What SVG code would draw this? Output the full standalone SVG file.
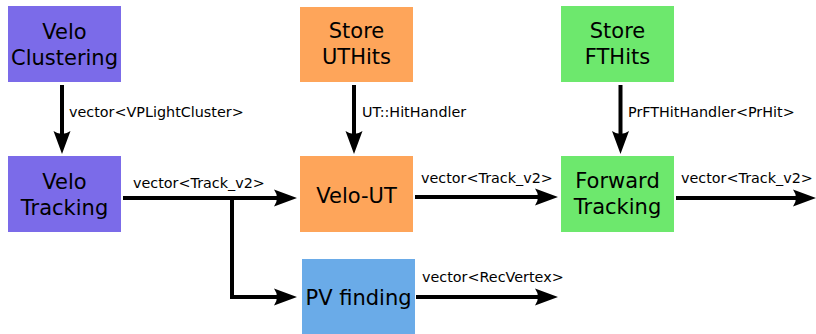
<svg xmlns="http://www.w3.org/2000/svg" width="816" height="334" viewBox="0 0 816 334">
<style>
.node{font-family:"DejaVu Sans",sans-serif;font-size:21px;fill:#000;text-anchor:middle}
.lbl{font-family:"DejaVu Sans",sans-serif;font-size:14.35px;fill:#000}
.c{fill:none;stroke:#000;stroke-width:4}
</style>
<defs>
<marker id="ah" viewBox="-24 -10 26 20" refX="-12" refY="0" markerWidth="26" markerHeight="20" markerUnits="userSpaceOnUse" orient="auto">
<path d="M0,0 L-23,-8.5 Q-17,0 -23,8.5 Z" fill="#000"/>
</marker>
</defs>
<rect width="816" height="334" fill="#fff"/>
<g id="velo-clustering"><rect x="8" y="6" width="113" height="76" fill="#7b6be9"/><text class="node" x="64.5" y="39">Velo</text><text class="node" x="64.5" y="65">Clustering</text></g>
<g id="velo-tracking"><rect x="8" y="156" width="113" height="76" fill="#7b6be9"/><text class="node" x="64.5" y="189">Velo</text><text class="node" x="64.5" y="215">Tracking</text></g>
<g id="store-uthits"><rect x="300" y="7" width="113" height="75" fill="#fea55a"/><text class="node" x="356.5" y="37.5">Store</text><text class="node" x="356.5" y="63.5">UTHits</text></g>
<g id="velo-ut"><rect x="300" y="156" width="113" height="76" fill="#fea55a"/><text class="node" x="356.5" y="203">Velo-UT</text></g>
<g id="store-fthits"><rect x="561" y="6" width="113" height="76" fill="#6de86d"/><text class="node" x="617.5" y="37.5">Store</text><text class="node" x="617.5" y="64">FTHits</text></g>
<g id="forward-tracking"><rect x="561" y="156" width="113" height="76" fill="#6de86d"/><text class="node" x="617.5" y="188">Forward</text><text class="node" x="617.5" y="214">Tracking</text></g>
<g id="pv-finding"><rect x="302" y="259" width="113" height="75" fill="#6aabe8"/><text class="node" x="358.5" y="305">PV finding</text></g>
<g id="connectors">
<path class="c" d="M62,85 V142" marker-end="url(#ah)"/>
<path class="c" d="M354,85 V142" marker-end="url(#ah)"/>
<path class="c" d="M620.5,85 V142" marker-end="url(#ah)"/>
<path class="c" d="M123,198 H285" marker-end="url(#ah)"/>
<path class="c" d="M232,198 V297 H285" marker-end="url(#ah)"/>
<path class="c" d="M415,197 H546" marker-end="url(#ah)"/>
<path class="c" d="M416,297 H546" marker-end="url(#ah)"/>
<path class="c" d="M676,198 H804" marker-end="url(#ah)"/>
<text class="lbl" x="69" y="117">vector&lt;VPLightCluster&gt;</text>
<text class="lbl" x="362" y="117">UT::HitHandler</text>
<text class="lbl" x="628" y="117">PrFTHitHandler&lt;PrHit&gt;</text>
<text class="lbl" x="133" y="188">vector&lt;Track_v2&gt;</text>
<text class="lbl" x="421" y="183">vector&lt;Track_v2&gt;</text>
<text class="lbl" x="681" y="183">vector&lt;Track_v2&gt;</text>
<text class="lbl" x="422" y="282">vector&lt;RecVertex&gt;</text>
</g>
</svg>
